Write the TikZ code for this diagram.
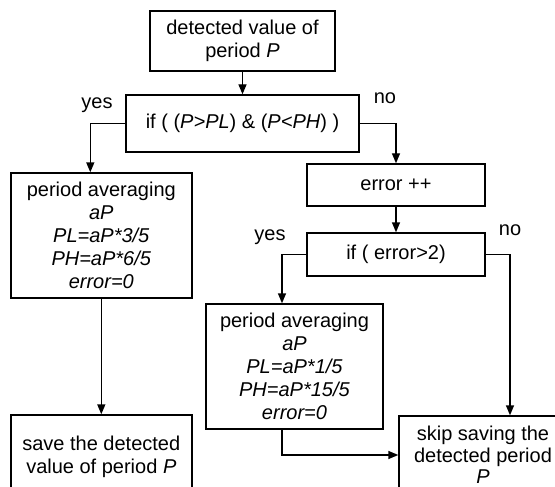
\documentclass[tikz,border=0pt]{standalone}
\usepackage{fontspec}
\setmainfont{Liberation Sans}
\usetikzlibrary{arrows.meta}
\begin{document}
\begin{tikzpicture}[x=1pt,y=-1pt,
  font=\fontsize{20}{23}\selectfont,
  box/.style={draw, line width=1.4pt, align=center, inner sep=0pt},
  arr/.style={line width=1.4pt, -{Triangle[length=10pt,width=8pt]}},
  lbl/.style={inner sep=0pt}]
\clip (0,0) rectangle (555,487);

% process and decision boxes
\node[box, minimum width=185pt, minimum height=60pt] (n1) at (242.5,41)
  {detected value of\\period \textit{P}};
\node[box, minimum width=233pt, minimum height=57pt] (n2) at (242.5,123.5)
  {if ( (\textit{P>PL}) \& (\textit{P<PH}) )};
\node[box, minimum width=181pt, minimum height=125pt] (n3) at (101.3,235.5)
  {period averaging\\\textit{aP}\\\textit{PL=aP*3/5}\\\textit{PH=aP*6/5}\\\textit{error=0}};
\node[box, minimum width=178pt, minimum height=42pt] (n4) at (396,185)
  {error ++};
\node[box, minimum width=178pt, minimum height=43pt] (n5) at (396,254.5)
  {if ( error>2)};
\node[box, minimum width=177pt, minimum height=125pt] (n6) at (294.5,366.5)
  {period averaging\\\textit{aP}\\\textit{PL=aP*1/5}\\\textit{PH=aP*15/5}\\\textit{error=0}};
\node[box, minimum width=181pt, minimum height=84pt] (n7) at (101.3,457)
  {save the detected\\value of period \textit{P}};
\node[box, minimum width=168pt, minimum height=78pt,
      font=\fontsize{20}{21.5}\selectfont] (n8) at (483,455)
  {skip saving the\\detected period\\\textit{P}};

% branch labels
\node[lbl] (y1) at (97,105) {yes};
\node[lbl] (o1) at (385,98) {no};
\node[lbl] (y2) at (270,237) {yes};
\node[lbl] (o2) at (510,230) {no};

% connectors
\draw[arr] (n1.south) -- (n2.north);
\draw[arr] (n2.west) -| ([xshift=-11pt]n3.north);
\draw[arr] (n2.east) -| (n4.north);
\draw[arr] (n4.south) -- (n5.north);
\draw[arr] (n5.west) -| ([xshift=-12.5pt]n6.north);
\draw[arr] (n5.east) -| ([xshift=27pt]n8.north);
\draw[arr] (n3.south) -- (n7.north);
\draw[arr] ([xshift=-12.5pt]n6.south) |- (n8.west);
\end{tikzpicture}
\end{document}
